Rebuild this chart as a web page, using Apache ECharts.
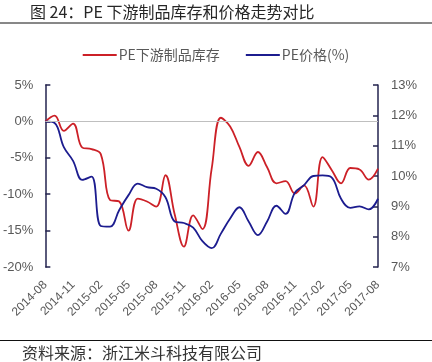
<!DOCTYPE html>
<html><head><meta charset="utf-8">
<script src="https://cdn.jsdelivr.net/npm/echarts@6/dist/echarts.min.js"></script>
<style>html,body{margin:0;padding:0;background:#fff}#c{width:432px;height:362px}</style>
</head><body><div id="c"></div>
<script>
const categories = ['2014-08','2014-09','2014-10','2014-11','2014-12','2015-01','2015-02','2015-03','2015-04','2015-05','2015-06','2015-07','2015-08','2015-09','2015-10','2015-11','2015-12','2016-01','2016-02','2016-03','2016-04','2016-05','2016-06','2016-07','2016-08','2016-09','2016-10','2016-11','2016-12','2017-01','2017-02','2017-03','2017-04','2017-05','2017-06','2017-07','2017-08'];
const inventory = [0, 0.8, -1.3, -0.3, -3.6, -3.8, -4.5, -10.8, -11.0, -15.0, -10.6, -11.0, -11.7, -7.4, -12.8, -17.2, -12.9, -14.8, -6.5, 0.5, -0.7, -3.5, -6.1, -4.2, -6.3, -8.5, -8.2, -9.9, -8.8, -11.7, -4.9, -6.7, -8.5, -6.4, -6.6, -8.0, -6.5];
const price = [11.8, 11.75, 10.95, 10.5, 9.87, 9.98, 8.35, 8.33, 8.88, 9.37, 9.75, 9.63, 9.58, 9.3, 8.5, 8.45, 8.3, 7.85, 7.62, 8.1, 8.6, 8.97, 8.5, 8.05, 8.5, 9.02, 8.75, 9.45, 9.7, 10.0, 10.02, 9.95, 9.25, 8.95, 9.0, 8.9, 9.25];
const seriesNames = ['PE下游制品库存', 'PE价格(%)'];
const titleText = '图 24：PE 下游制品库存和价格走势对比';
const sourceText = '资料来源：浙江米斗科技有限公司';

const chart = echarts.init(document.getElementById('c'));
const lbl = {color:'#595959', fontSize:13, fontFamily:'Liberation Sans'};
const axisCol = '#23234f';
chart.setOption({
  animation:false,
  textStyle:{fontFamily:'Liberation Sans'},
  graphic:[
    {type:'text', left:30, top:4, style:{text:titleText, fontSize:16, fill:'#262626', fontFamily:'Noto Sans CJK SC'}},
    {type:'line', shape:{x1:0,y1:23,x2:432,y2:23}, style:{stroke:'#111', lineWidth:1}},
    {type:'line', shape:{x1:0,y1:340.5,x2:432,y2:340.5}, style:{stroke:'#111', lineWidth:1}},
    {type:'text', left:22, top:345, style:{text:sourceText, fontSize:16, fill:'#333', fontFamily:'Noto Sans CJK SC'}}
  ],
  legend:{top:43, left:'center', itemGap:26, itemWidth:34, itemHeight:2,
    textStyle:{color:'#595959', fontSize:14, fontFamily:'Noto Sans CJK SC', padding:[0,0,0,-3]},
    data:[{name:seriesNames[0], icon:'rect'},{name:seriesNames[1], icon:'rect'}]},
  grid:{left:44, right:54, top:85, bottom:95},
  xAxis:{type:'category', data:categories, boundaryGap:false,
    axisLine:{show:false}, axisTick:{show:false},
    axisLabel:{...lbl, fontSize:12, rotate:45, interval:2, margin:16}},
  yAxis:[
    {type:'value', min:-20, max:5, interval:5, position:'left',
     axisLine:{show:true, lineStyle:{color:axisCol, width:1.5}},
     axisTick:{show:true, inside:true, length:5, lineStyle:{color:axisCol, width:1.5}},
     splitLine:{show:false},
     axisLabel:{...lbl, margin:12, formatter:v=>v+'%'}},
    {type:'value', min:7, max:13, interval:1, position:'right',
     axisLine:{show:true, lineStyle:{color:axisCol, width:1.5}},
     axisTick:{show:true, inside:true, length:5, lineStyle:{color:axisCol, width:1.5}},
     splitLine:{show:false},
     axisLabel:{...lbl, margin:13, formatter:v=>v+'%'}}
  ],
  series:[
    {name:seriesNames[0], type:'line', yAxisIndex:0, data:inventory, smooth:0.4, showSymbol:false,
     lineStyle:{color:'#cc2027', width:1.8}, itemStyle:{color:'#cc2027'},
     markLine:{silent:true, symbol:'none', label:{show:false}, lineStyle:{color:'#bfbfbf', type:'solid', width:1},
       data:[{yAxis:0}]}},
    {name:seriesNames[1], type:'line', yAxisIndex:1, data:price, smooth:0.4, showSymbol:false, z:3,
     lineStyle:{color:'#1c1c8f', width:1.8}, itemStyle:{color:'#1c1c8f'}}
  ]
});
</script></body></html>
